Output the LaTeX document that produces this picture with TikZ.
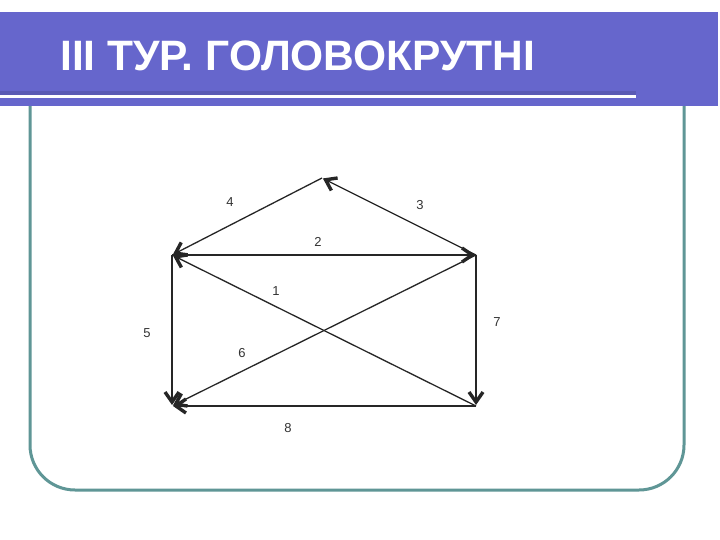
\documentclass[tikz,border=0pt]{standalone}
\usepackage{fontspec}
\setmainfont{Liberation Sans}
\usetikzlibrary{arrows.meta}
\definecolor{banner}{HTML}{6666CC}
\definecolor{bannerdark}{HTML}{5A5AB4}
\definecolor{framec}{HTML}{5F9696}
\tikzset{
  edge/.style={draw=black!85, line width=1.3pt, -{Straight Barb[length=10pt,width=14pt,line width=3.4pt]}, shorten >=1pt},
  lbl/.style={font=\fontsize{13}{15}\selectfont, text=black!80, inner sep=0pt}
}
\begin{document}
\begin{tikzpicture}[x=1pt,y=-1pt]
\useasboundingbox (0,0) rectangle (720,540);
\fill[white] (0,0) rectangle (720,540);
% frame
\draw[framec, line width=3pt, rounded corners=45pt] (30,60) rectangle (684,490);
% banner
\fill[banner] (0,12) rectangle (718,106);
\fill[bannerdark] (0,91) rectangle (636,95);
\fill[white] (0,95) rectangle (636,98);
\node[anchor=base west, text=white, font=\fontsize{42.5}{46}\selectfont\bfseries, inner sep=0pt] (title) at (60,71) {III ТУР. ГОЛОВОКРУТНІ};
% vertices
\coordinate (A) at (172,255);
\coordinate (B) at (476,255);
\coordinate (C) at (172,406);
\coordinate (D) at (476,406);
\coordinate (E) at (322,178);
% edges
\draw[edge] (D) -- (A);
\draw[edge] (A) -- (B);
\draw[edge] (B) -- (E);
\draw[edge] (E) -- (A);
\draw[edge] (A) -- (C);
\draw[edge] (B) -- (C);
\draw[edge] (B) -- (D);
\draw[edge] (D) -- (C);
% labels
\node[lbl] (l1) at (276,291) {1};
\node[lbl] (l2) at (318,242) {2};
\node[lbl] (l3) at (420,205) {3};
\node[lbl] (l4) at (230,202) {4};
\node[lbl] (l5) at (147,333) {5};
\node[lbl] (l6) at (242,353) {6};
\node[lbl] (l7) at (497,322) {7};
\node[lbl] (l8) at (288,428) {8};
\end{tikzpicture}
\end{document}
